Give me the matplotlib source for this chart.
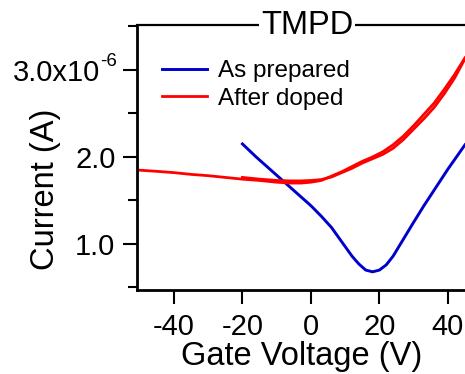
import matplotlib
matplotlib.use("Agg")
import matplotlib.pyplot as plt
from matplotlib.ticker import FixedLocator, FixedFormatter

plt.rcParams['font.family'] = ['Liberation Sans', 'DejaVu Sans']
plt.rcParams['axes.unicode_minus'] = False

# As prepared (single sweep)
v_prep = [-20, -16, -12, -8, -4, 0, 3, 6, 8, 10, 12, 14, 16, 18, 20, 22, 24, 26, 28, 30, 33, 36, 40, 45]
i_prep = [2.15, 2.00, 1.86, 1.72, 1.58, 1.44, 1.32, 1.19, 1.08, 0.97, 0.86, 0.77, 0.70, 0.68, 0.70,
          0.76, 0.86, 0.99, 1.12, 1.25, 1.44, 1.62, 1.86, 2.14]

# After doped: forward sweep and backward sweep
v_dop_f = [-50.8, -45, -40, -35, -30, -25, -20, -15, -10, -6, -3, 0, 3, 6, 9, 12, 15, 18, 21, 24,
           27, 30, 33, 36, 39, 42, 45]
i_dop_f = [1.85, 1.835, 1.82, 1.80, 1.785, 1.765, 1.745, 1.73, 1.71, 1.70, 1.70, 1.71, 1.73, 1.78,
           1.83, 1.89, 1.95, 2.00, 2.06, 2.14, 2.24, 2.36, 2.49, 2.62, 2.78, 2.95, 3.14]
v_dop_b = [45, 42, 39, 36, 33, 30, 27, 24, 21, 18, 15, 12, 9, 6, 3, 0, -3, -6, -10, -15, -20]
i_dop_b = [3.13, 2.91, 2.73, 2.57, 2.44, 2.32, 2.20, 2.10, 2.03, 1.98, 1.93, 1.87, 1.82, 1.77,
           1.74, 1.73, 1.725, 1.725, 1.73, 1.745, 1.765]

scale = 1e-6
y_major = [1.0, 2.0, 3.0]
y_minor = [0.5, 1.5, 2.5, 3.5]
y_labels = ['1.0', '2.0', '']
top_label = '3.0x10'
top_exp = '-6'
x_ticks = [-40, -20, 0, 20, 40]

fig = plt.figure(figsize=(4.65, 3.74), dpi=100)
L, B, T = 137, 290, 25
W, H = 465 - L, B - T
ax = fig.add_axes([L / 465, 1 - B / 374, W / 465, H / 374])

ax.plot(v_prep, [v * scale for v in i_prep], color='#0000CC', lw=2.1, label='As prepared',
        solid_joinstyle='round')
ax.plot(v_dop_f, [v * scale for v in i_dop_f], color='#FF0000', lw=2.0, label='After doped',
        solid_joinstyle='round')
ax.plot(v_dop_b, [v * scale for v in i_dop_b], color='#FF0000', lw=2.0, solid_joinstyle='round')

ymin, ymax = 0.471, 3.517
ax.set_xlim(-50.8, 45.0)
ax.set_ylim(ymin * scale, ymax * scale)

ax.xaxis.set_major_locator(FixedLocator(x_ticks))
ax.set_xticklabels([str(x) for x in x_ticks])
ax.yaxis.set_major_locator(FixedLocator([v * scale for v in y_major]))
ax.yaxis.set_major_formatter(FixedFormatter(y_labels))
ax.yaxis.set_minor_locator(FixedLocator([v * scale for v in y_minor]))

ax.tick_params(axis='both', which='major', direction='out', length=10, width=1.5,
               labelsize=21, color='black')
ax.tick_params(axis='y', which='major', pad=5.5)
ax.tick_params(axis='x', which='major', pad=6.5)
ax.tick_params(axis='y', which='minor', direction='out', length=6.5, width=1.5)

# top tick label with superscript exponent
y3 = (3.0 - ymin) / (ymax - ymin)
ax.text((100 - L) / W, y3, top_label, transform=ax.transAxes, fontsize=21,
        ha='right', va='center_baseline')
ax.text((100 - L) / W, y3 + 10 / H, top_exp, transform=ax.transAxes, fontsize=13.5,
        ha='left', va='center_baseline')

for s in ['left', 'bottom']:
    ax.spines[s].set_linewidth(2.0)
ax.spines['top'].set_linewidth(1.6)
ax.spines['right'].set_visible(False)

ax.set_xlabel('Gate Voltage (V)', fontsize=23.5)
ax.xaxis.set_label_coords((301.5 - L) / W, (B - 341) / H)
ax.set_ylabel('Current (A)', fontsize=23.5)
ax.yaxis.label.set_va('center')
ax.yaxis.set_label_coords((46 - L) / W, (B - 189) / H)

ax.text((307 - L) / W, 1.0, 'TMPD', transform=ax.transAxes, fontsize=23.5,
        ha='center', va='center',
        bbox=dict(facecolor='white', edgecolor='none', pad=1.5), zorder=5, clip_on=False)

ax.legend(loc='upper left', bbox_to_anchor=((162 - L) / W, (B - 60) / H),
          frameon=False, fontsize=17.5, handlelength=1.85, handletextpad=0.45,
          labelspacing=0.23, borderpad=0, borderaxespad=0)

fig.savefig('out.png', dpi=100)
